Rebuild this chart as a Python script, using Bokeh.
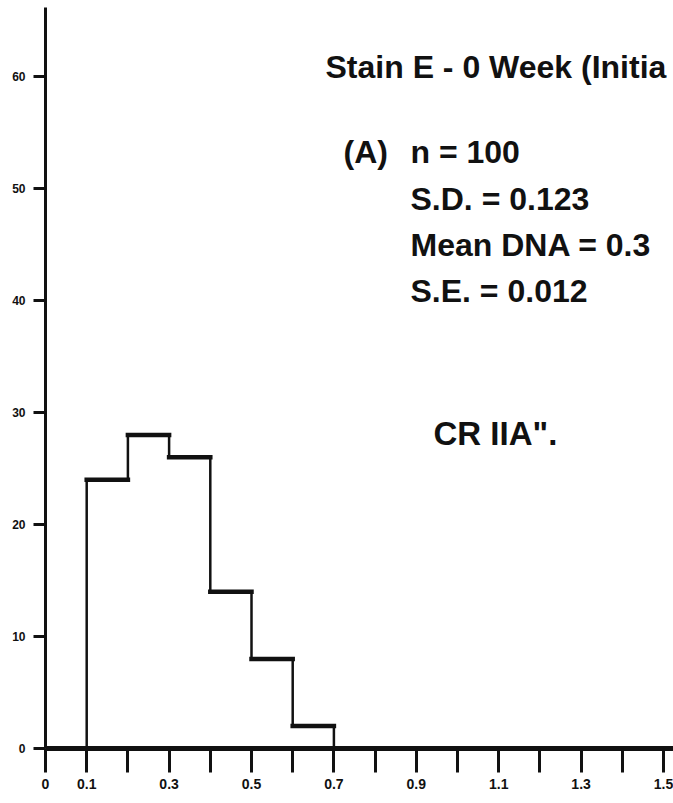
from bokeh.plotting import figure
from bokeh.models import FixedTicker, Label, Range1d
from bokeh.embed import file_html
from bokeh.resources import INLINE

# ---- data ----
bin_left = [0.1, 0.2, 0.3, 0.4, 0.5, 0.6]
bin_right = [0.2, 0.3, 0.4, 0.5, 0.6, 0.7]
counts = [24, 28, 26, 14, 8, 2]

x_major_ticks = [0, 0.1, 0.3, 0.5, 0.7, 0.9, 1.1, 1.3, 1.5]
x_major_labels = ["0", "0.1", "0.3", "0.5", "0.7", "0.9", "1.1", "1.3", "1.5"]
x_minor_ticks = [0.2, 0.4, 0.6, 0.8, 1.0, 1.2, 1.4]
y_ticks = [0, 10, 20, 30, 40, 50, 60]
y_labels = ["0", "10", "20", "30", "40", "50", "60"]

title_text = "Stain E - 0 Week (Initia"
panel_tag = "(A)"
stats_lines = ["n = 100", "S.D. = 0.123", "Mean DNA = 0.3", "S.E. = 0.012"]
code_text = 'CR IIA".'

FONT = "Liberation Sans"
INK = "#111111"

# pixel geometry: x=0 at 45px, 412 px per unit; y=0 at 748px, 11.2 px per unit
PX_X0, PX_PER_X = 45.0, 412.0
PX_Y0, PX_PER_Y = 748.0, 11.2


def dx(px):
    return (px - PX_X0) / PX_PER_X


def dy(py):
    return (PX_Y0 - py) / PX_PER_Y


p = figure(
    width=673, height=803,
    x_range=Range1d(0, (673 - PX_X0) / PX_PER_X),
    y_range=Range1d(0, (PX_Y0 - 7) / PX_PER_Y),
    output_backend="svg", toolbar_location=None,
    min_border_left=45, min_border_right=0, min_border_top=7, min_border_bottom=55,
)
p.outline_line_color = None
p.xgrid.visible = False
p.ygrid.visible = False
p.background_fill_color = "white"
p.border_fill_color = "white"

# x axis
xa = p.xaxis[0]
xa.ticker = FixedTicker(ticks=x_major_ticks, minor_ticks=x_minor_ticks)
xa.major_label_overrides = dict(zip(x_major_ticks, x_major_labels))
xa.axis_line_width = 5
xa.axis_line_color = INK
xa.major_tick_in = 0
xa.major_tick_out = 24
xa.major_tick_line_width = 3
xa.major_tick_line_color = INK
xa.minor_tick_in = 0
xa.minor_tick_out = 24
xa.minor_tick_line_width = 3
xa.minor_tick_line_color = INK
xa.major_label_standoff = 6
xa.major_label_text_font = FONT
xa.major_label_text_font_style = "bold"
xa.major_label_text_font_size = "14px"
xa.major_label_text_color = INK

# y axis
ya = p.yaxis[0]
ya.ticker = FixedTicker(ticks=y_ticks, minor_ticks=[])
ya.major_label_overrides = dict(zip(y_ticks, y_labels))
ya.axis_line_width = 3
ya.axis_line_color = INK
ya.major_tick_in = 0
ya.major_tick_out = 12
ya.major_tick_line_width = 3
ya.major_tick_line_color = INK
ya.minor_tick_out = 0
ya.minor_tick_in = 0
ya.major_label_standoff = 8
ya.major_label_text_font = FONT
ya.major_label_text_font_style = "bold"
ya.major_label_text_font_size = "12px"
ya.major_label_text_color = INK

# histogram outline (step shape)
edges = bin_left + [bin_right[-1]]
lower = [0] + counts
upper = counts + [0]
p.segment(x0=edges, y0=lower, x1=edges, y1=upper, line_width=2.5, line_color=INK)
p.segment(x0=bin_left, y0=counts, x1=bin_right, y1=counts,
          line_width=4.5, line_color=INK, line_cap="square")

# texts
def add_text(txt, px, py, size):
    p.add_layout(Label(x=dx(px), y=dy(py), text=txt, text_font=FONT,
                       text_font_size=size, text_font_style="bold",
                       text_color=INK,
                       text_baseline="alphabetic", text_align="left"))

add_text(title_text, 325, 66, "32px")
add_text(panel_tag, 343, 151, "32px")
stat_baselines = [151, 198, 244, 290]
for line, b in zip(stats_lines, stat_baselines):
    add_text(line, 410, b, "32px")
add_text(code_text, 433, 433, "33px")

open("out.html", "w").write(file_html(p, INLINE))
